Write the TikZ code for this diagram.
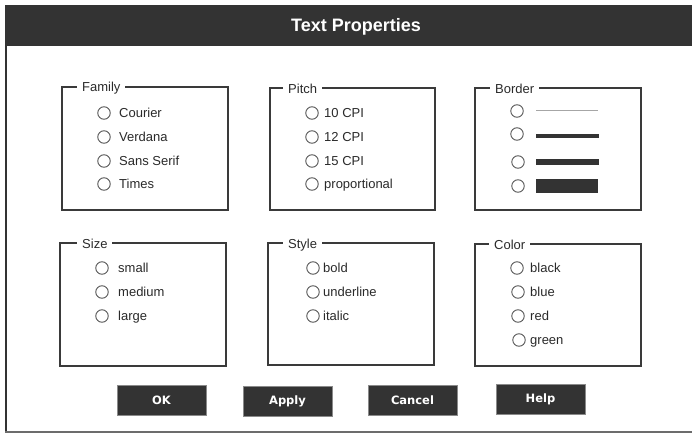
\documentclass[tikz,border=0pt]{standalone}
\usepackage{fontspec}
\setmainfont{Liberation Sans}
\newfontfamily\btnfont{DejaVu Sans}
\definecolor{dark}{HTML}{333333}
\definecolor{textc}{HTML}{2A2A2A}
\definecolor{framec}{HTML}{3A3A3A}
\definecolor{radioc}{HTML}{555555}
\definecolor{btnedge}{HTML}{8A8A8A}
\newcommand\radioopt[5]{%
  \node[rad] (#5) at (#1,#3) {};
  \node[opt] (#5t) at (#2,#3+4.7) {#4};}
\begin{document}
\begin{tikzpicture}[x=1pt,y=-1pt,
  grp/.style={draw=framec, line width=1.3pt},
  grplabel/.style={fill=white, inner xsep=5pt, inner ysep=2pt, anchor=base west,
    font=\fontsize{13}{15}\selectfont, text=textc},
  rad/.style={circle, draw=radioc, line width=0.9pt, minimum size=12.5pt, inner sep=0pt},
  opt/.style={anchor=base west, inner sep=0pt, font=\fontsize{13}{15}\selectfont, text=textc},
  btn/.style={fill=dark, draw=btnedge, line width=0.8pt, minimum width=89pt,
    minimum height=30pt, inner sep=0pt, text=white,
    font=\btnfont\bfseries\fontsize{11.5}{13}\selectfont}]
\useasboundingbox (0,0) rectangle (692,433);
\fill[white] (0,0) rectangle (692,433);
% window
\fill[dark] (5,5) rectangle (692,46);
\node[text=white, font=\bfseries\fontsize{18}{20}\selectfont] (title) at (356,27) {Text Properties};
\draw[dark, line width=2pt] (6,46) -- (6,432);
\draw[gray!85!black, line width=2pt] (5,431.5) -- (692,431.5);
% group boxes
\draw[grp] (62,87) rectangle (228,210);
\node[grplabel] (famlab) at (77,92) {Family};
\draw[grp] (270,88) rectangle (435,210);
\node[grplabel] (pitlab) at (283,93) {Pitch};
\draw[grp] (475,88) rectangle (641,210);
\node[grplabel] (borlab) at (490,93) {Border};
\draw[grp] (60,243) rectangle (226,366);
\node[grplabel] (sizlab) at (77,248) {Size};
\draw[grp] (268,243) rectangle (434,365);
\node[grplabel] (stylab) at (283,248) {Style};
\draw[grp] (475,244) rectangle (641,366);
\node[grplabel] (collab) at (489,249) {Color};
% family
\radioopt{104}{119}{113}{Courier}{f1}
\radioopt{104}{119}{137}{Verdana}{f2}
\radioopt{104}{119}{161}{Sans Serif}{f3}
\radioopt{104}{119}{184}{Times}{f4}
% pitch
\radioopt{312}{324}{113}{10 CPI}{p1}
\radioopt{312}{324}{137}{12 CPI}{p2}
\radioopt{312}{324}{161}{15 CPI}{p3}
\radioopt{312}{324}{184}{proportional}{p4}
% border
\node[rad] (b1) at (517,111) {};
\node[rad] (b2) at (517,134) {};
\node[rad] (b3) at (518,162) {};
\node[rad] (b4) at (518,186) {};
\draw[gray!70, line width=1pt] (536,110) -- (598,110);
\draw[dark, line width=4pt] (536,136) -- (599,136);
\draw[dark, line width=6.5pt] (536,162) -- (599,162);
\fill[dark] (536,179) rectangle (598,193);
% size
\radioopt{102}{118}{268}{small}{s1}
\radioopt{102}{118}{292}{medium}{s2}
\radioopt{102}{118}{316}{large}{s3}
% style
\radioopt{313}{323}{268}{bold}{t1}
\radioopt{313}{323}{292}{underline}{t2}
\radioopt{313}{323}{316}{italic}{t3}
% color
\radioopt{517}{530}{268}{black}{c1}
\radioopt{518}{530}{292}{blue}{c2}
\radioopt{518}{530}{316}{red}{c3}
\radioopt{519}{530}{340}{green}{c4}
% buttons
\node[btn] (ok) at (161.5,400) {OK};
\node[btn] (apply) at (287.5,401.5) {Apply};
\node[btn] (cancel) at (412.5,400) {Cancel};
\node[btn] (help) at (540.5,399.5) {Help};
\end{tikzpicture}
\end{document}
